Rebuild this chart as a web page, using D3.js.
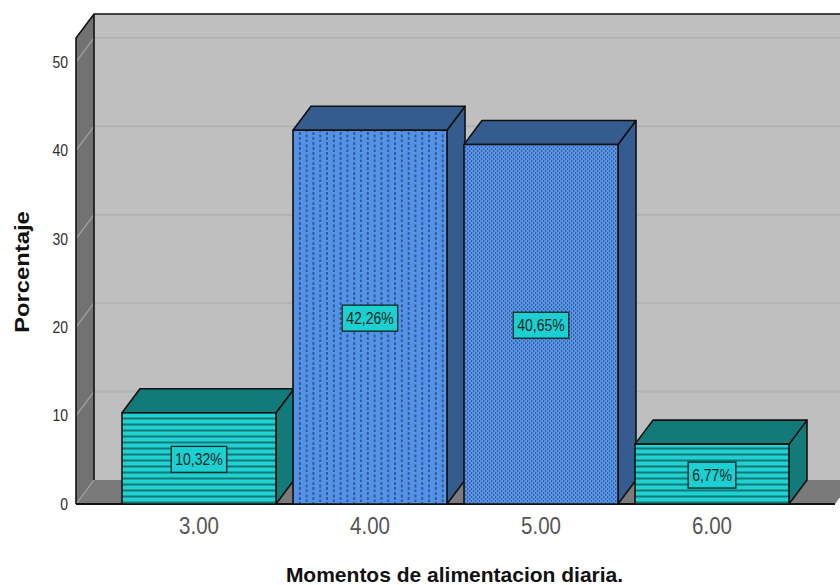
<!DOCTYPE html>
<html>
<head>
<meta charset="utf-8">
<script src="https://cdn.jsdelivr.net/npm/d3@7/dist/d3.min.js"></script>
<style>
html,body{margin:0;padding:0;background:#fff;}
svg{display:block;}
text{font-family:"Liberation Sans",Arial,sans-serif;}
</style>
</head>
<body>
<svg id="chart" width="840" height="585"></svg>
<script>
// Meal-frequency percentages
const categories = ["3.00", "4.00", "5.00", "6.00"];
const percentages = [10.32, 42.26, 40.65, 6.77];
const percentLabels = ["10,32%", "42,26%", "40,65%", "6,77%"];
const fillPatterns = ["stripes", "dashes", "dots", "stripes"];
const yTicks = [0, 10, 20, 30, 40, 50];
const xTitle = "Momentos de alimentacion diaria.";
const yTitle = "Porcentaje";

const svg = d3.select("#chart");
const depthX = 18, depthY = 24;
const yMax = 52.7;

const x = d3.scaleBand().domain(categories).range([113.5, 797.5])
  .paddingInner(17 / 171).paddingOuter(17 / 342);
const y = d3.scaleLinear().domain([0, yMax]).range([504, 38]);

const left = 76, right = 835, floorY = y(0), topY = y(yMax);
const ink = "#111";
const palette = {
  stripes: {face: "#1ed2d2", shade: "#127b79", line: "#17767a"},
  dashes: {face: "#5492e8", shade: "#345c8e", line: "#2b4e82"},
  dots: {face: "#5a97ec", shade: "#345c8e", line: "#33609c"}
};

// Hatch fills for the bar fronts
const defs = svg.append("defs");
const stripes = defs.append("pattern").attr("id", "stripes").attr("patternUnits", "userSpaceOnUse")
  .attr("width", 6).attr("height", 6).attr("y", 414);
stripes.append("rect").attr("width", 6).attr("height", 6).attr("fill", palette.stripes.face);
stripes.append("rect").attr("y", 3.5).attr("width", 6).attr("height", 2).attr("fill", palette.stripes.line);

const dashes = defs.append("pattern").attr("id", "dashes").attr("patternUnits", "userSpaceOnUse")
  .attr("width", 13.6).attr("height", 10).attr("x", 295).attr("y", 132);
dashes.append("rect").attr("width", 13.6).attr("height", 10).attr("fill", palette.dashes.face);
[[4, 0], [4, 5], [10.8, 2.5], [10.8, 7.5]].forEach(([dx, dy]) => {
  dashes.append("rect").attr("x", dx).attr("y", dy).attr("width", 1.6).attr("height", 3).attr("fill", palette.dashes.line);
});

const dots = defs.append("pattern").attr("id", "dots").attr("patternUnits", "userSpaceOnUse")
  .attr("width", 4).attr("height", 4).attr("x", 465).attr("y", 146);
dots.append("rect").attr("width", 4).attr("height", 4).attr("fill", palette.dots.face);
dots.append("rect").attr("x", 0).attr("y", 0).attr("width", 1.3).attr("height", 2).attr("fill", palette.dots.line);
dots.append("rect").attr("x", 2).attr("y", 2).attr("width", 1.3).attr("height", 2).attr("fill", palette.dots.line);

const poly = pts => pts.map(p => p.join(",")).join(" ");

// Back wall, side wall and floor of the 3D box
const frame = svg.append("g");
frame.append("rect").attr("x", left + depthX).attr("y", topY - depthY)
  .attr("width", 840 - left - depthX).attr("height", floorY - topY).attr("fill", "#bfbfbf");
frame.append("polygon")
  .attr("points", poly([[left, topY], [left + depthX, topY - depthY], [left + depthX, floorY - depthY], [left, floorY]]))
  .attr("fill", "#727272");
frame.append("polygon")
  .attr("points", poly([[left, floorY], [left + depthX, floorY - depthY], [right + depthX, floorY - depthY], [right, floorY]]))
  .attr("fill", "#7a7a7a");

// Gridlines run along the back wall and fold down the side wall
yTicks.filter(d => d > 0).forEach(d => {
  frame.append("line").attr("x1", left + depthX).attr("x2", 840)
    .attr("y1", y(d) - depthY).attr("y2", y(d) - depthY).attr("stroke", "#b2b2b2").attr("stroke-width", 2);
});
yTicks.forEach(d => {
  frame.append("line").attr("x1", left).attr("x2", left + depthX)
    .attr("y1", y(d)).attr("y2", y(d) - depthY).attr("stroke", "#a2a2a2").attr("stroke-width", 1.2);
});

// Box edges
frame.append("path")
  .attr("d", `M${left},${floorY}V${topY}L${left + depthX},${topY - depthY}H840`)
  .attr("fill", "none").attr("stroke", ink).attr("stroke-width", 1.6);
frame.append("line").attr("x1", left + depthX).attr("x2", left + depthX)
  .attr("y1", topY - depthY).attr("y2", floorY - depthY).attr("stroke", ink).attr("stroke-width", 1.6);
frame.append("line").attr("x1", left).attr("x2", right).attr("y1", floorY).attr("y2", floorY)
  .attr("stroke", ink).attr("stroke-width", 2);

// Bars: front, side and top faces
const bars = categories.map((c, i) => ({c, v: percentages[i], label: percentLabels[i], pattern: fillPatterns[i]}));
const barG = svg.append("g").selectAll("g").data(bars).join("g")
  .attr("stroke", ink).attr("stroke-width", 1.6).attr("stroke-linejoin", "round");
barG.append("polygon").attr("fill", d => palette[d.pattern].shade)
  .attr("points", d => {
    const x1 = x(d.c) + x.bandwidth(), t = y(d.v);
    return poly([[x1, t], [x1 + depthX, t - depthY], [x1 + depthX, floorY - depthY], [x1, floorY]]);
  });
barG.append("polygon").attr("fill", d => palette[d.pattern].shade)
  .attr("points", d => {
    const x0 = x(d.c), x1 = x0 + x.bandwidth(), t = y(d.v);
    return poly([[x0, t], [x0 + depthX, t - depthY], [x1 + depthX, t - depthY], [x1, t]]);
  });
barG.append("rect").attr("x", d => x(d.c)).attr("y", d => y(d.v))
  .attr("width", x.bandwidth()).attr("height", d => floorY - y(d.v))
  .attr("fill", d => `url(#${d.pattern})`);

// Value boxes at each bar's mid height; glyphs are drawn tall and narrow
const tall = 1.18;
const labelG = svg.append("g").selectAll("g").data(bars).join("g")
  .attr("transform", d => `translate(${x(d.c) + x.bandwidth() / 2},${(y(d.v) + floorY) / 2 + 1})`);
labelG.append("text").attr("text-anchor", "middle").attr("transform", `translate(0,6) scale(1,${tall})`)
  .attr("font-size", 14).attr("fill", "#062626").text(d => d.label);
labelG.each(function() {
  const g = d3.select(this), w = g.select("text").node().getComputedTextLength();
  g.insert("rect", "text").attr("x", -w / 2 - 4).attr("y", -13).attr("width", w + 8).attr("height", 26)
    .attr("fill", "#1ccfd0").attr("stroke", "#0f2f2f").attr("stroke-width", 1.4);
});

// Axes
const yAxis = d3.axisLeft(y).tickValues(yTicks).tickSize(0).tickPadding(8).tickFormat(d3.format("d"));
const yG = svg.append("g").attr("transform", `translate(${left},0)`).call(yAxis);
yG.select(".domain").remove();
yG.selectAll("text").attr("font-size", 14).attr("fill", "#2e2e2e")
  .style("font-family", '"Liberation Sans",Arial,sans-serif')
  .attr("transform", `scale(1,${tall})`);

const xAxis = d3.axisBottom(x).tickSize(0).tickPadding(11);
const xG = svg.append("g").attr("transform", `translate(0,${floorY})`).call(xAxis);
xG.select(".domain").remove();
xG.selectAll("text").attr("font-size", 20.5).attr("fill", "#555")
  .style("font-family", '"Liberation Sans",Arial,sans-serif')
  .attr("transform", `scale(1,${tall})`);

svg.append("text").attr("x", 454.5).attr("y", 582).attr("text-anchor", "middle")
  .attr("font-size", 21).attr("font-weight", "bold").attr("fill", "#111").text(xTitle);
svg.append("text").attr("transform", "translate(29,272) rotate(-90) scale(1.19,1)").attr("text-anchor", "middle")
  .attr("font-size", 20).attr("font-weight", "bold").attr("fill", "#111").text(yTitle);
</script>
</body>
</html>
